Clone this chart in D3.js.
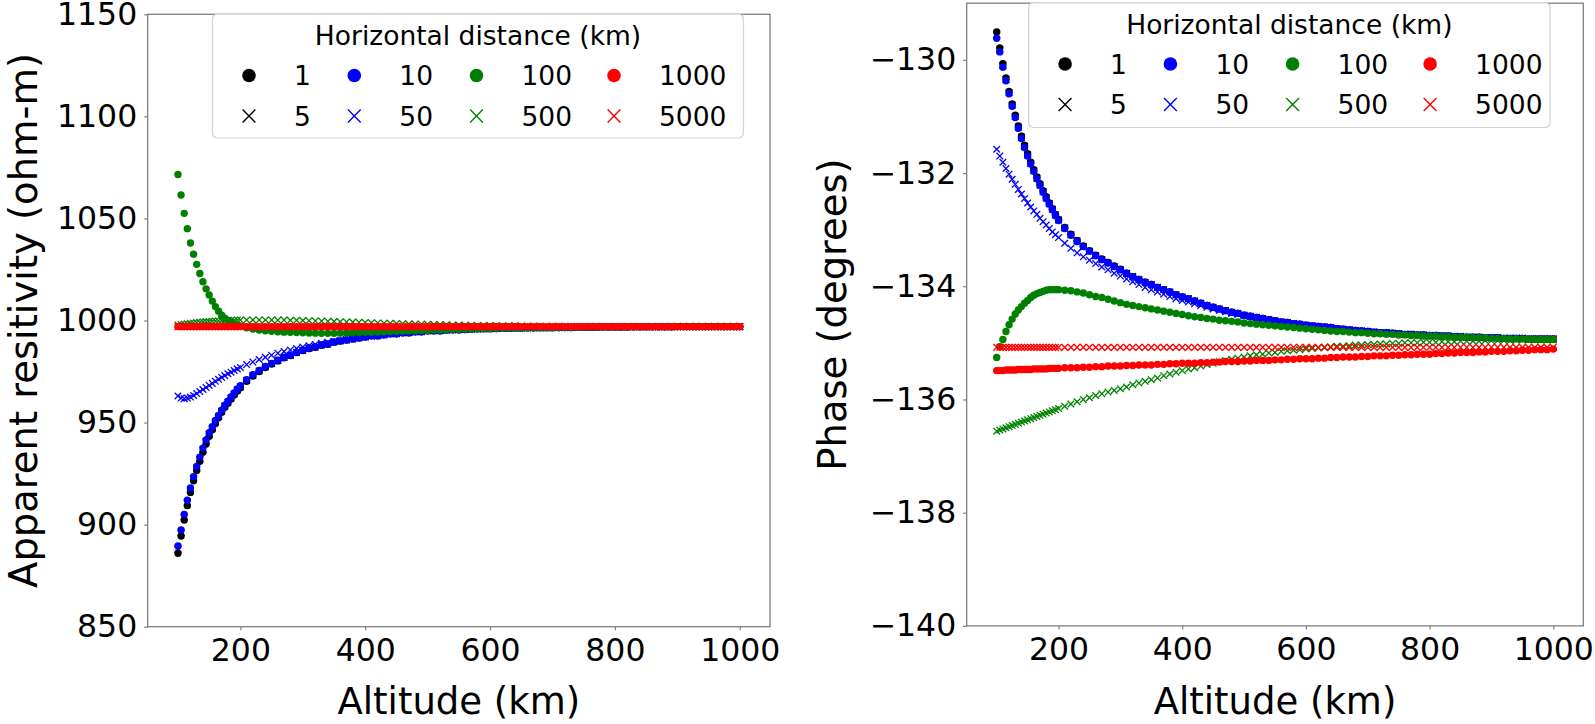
<!DOCTYPE html>
<html><head><meta charset="utf-8">
<script src="https://cdn.jsdelivr.net/npm/d3@7"></script>
<style>
body{margin:0;background:#fff}
svg{display:block}
text{font-family:"DejaVu Sans","Liberation Sans",sans-serif}
</style>
</head><body>
<svg id="chart" width="1595" height="724"></svg>
<script>
// ---------------- DATA ----------------
const altitude = [100,105,110,115,120,125,130,135,140,145,150,155,160,165,170,175,180,185,190,195,200,
210,220,230,240,250,260,270,280,290,300,
310,320,330,340,350,360,370,380,390,400,
410,420,430,440,450,460,470,480,490,500,
510,520,530,540,550,560,570,580,590,600,
610,620,630,640,650,660,670,680,690,700,
710,720,730,740,750,760,770,780,790,800,
810,820,830,840,850,860,870,880,890,900,
910,920,930,940,950,960,970,980,990,1000];

const distanceLabels = ["1","5","10","50","100","500","1000","5000"];
const legendTitle = "Horizontal distance (km)";
const altTicks = [200,400,600,800,1000];
const resTicks = [850,900,950,1000,1050,1100,1150];
const phaseTicks = [-140,-138,-136,-134,-132,-130];

// apparent resistivity (ohm-m)
const res1 = [886,894.4,902.3,909.3,915.8,921.5,926.5,931,935.5,939.5,943.3,946.5,949.5,952.3,955,957.5,959.5,961.5,963.5,965.5,967,
970.2,972.8,975,977,978.7,980.2,981.7,982.8,984.3,985.3,
986.3,986.9,987.9,988.4,989.4,989.9,990.4,990.9,991.4,991.9,
992.5,992.5,993,993.5,993.5,994,994,994.5,994.5,995,
995,995,995.3,995.5,995.5,995.6,995.8,995.9,996,996,
996.1,996.2,996.2,996.3,996.3,996.4,996.4,996.5,996.5,996.5,
996.6,996.6,996.6,996.7,996.7,996.7,996.7,996.8,996.8,996.8,
996.8,996.8,996.9,996.9,996.9,996.9,996.9,996.9,996.9,997,
997,997,997,997,997,997,997,997,997,997];
const res5 = [888,896,903.8,910.8,917,922.6,927.6,932,936.6,940.6,944.2,947.3,950.3,953,955.5,958,960,962,964,966,967.5,
970.6,973.2,975.3,977.3,978.9,980.4,981.9,982.9,984.4,985.4,
986.4,987,988,988.5,989.5,990,990.5,991,991.5,992,
992.5,992.5,993,993.5,993.5,994,994,994.5,994.5,995,
995,995,995.3,995.5,995.5,995.6,995.8,995.9,996,996,
996.1,996.2,996.2,996.3,996.3,996.4,996.4,996.5,996.5,996.5,
996.6,996.6,996.6,996.7,996.7,996.7,996.7,996.8,996.8,996.8,
996.8,996.8,996.9,996.9,996.9,996.9,996.9,996.9,996.9,997,
997,997,997,997,997,997,997,997,997,997];
const res10 = [889.5,897.4,905,912,918,923.5,928.5,933,937.5,941.5,945,948,951,953.5,956,958.5,960.5,962.5,964.5,966.5,968,
971,973.5,975.5,977.5,979,980.5,982,983,984.5,985.5,
986.5,987,988,988.5,989.5,990,990.5,991,991.5,992,
992.5,992.5,993,993.5,993.5,994,994,994.5,994.5,995,
995,995,995.3,995.5,995.5,995.6,995.8,995.9,996,996,
996.1,996.2,996.2,996.3,996.3,996.4,996.4,996.5,996.5,996.5,
996.6,996.6,996.6,996.7,996.7,996.7,996.7,996.8,996.8,996.8,
996.8,996.8,996.9,996.9,996.9,996.9,996.9,996.9,996.9,997,
997,997,997,997,997,997,997,997,997,997];
const res50 = [963,962,961.7,962,962.5,963.3,964.2,965.2,966.2,967.2,968.2,969.2,970.2,971.2,972.1,973,973.9,974.7,975.5,976.3,977,
978.4,979.7,980.9,982,983,984,984.8,985.6,986.3,987,
987.6,988.2,988.8,989.3,989.8,990.3,990.7,991.1,991.5,991.9,
992.3,992.7,993,993.4,993.7,994,994.2,994.5,994.7,995,
995.1,995.2,995.4,995.5,995.6,995.7,995.8,995.9,996,996.1,
996.1,996.2,996.3,996.3,996.4,996.4,996.5,996.5,996.5,996.6,
996.6,996.6,996.7,996.7,996.7,996.7,996.8,996.8,996.8,996.8,
996.8,996.9,996.9,996.9,996.9,996.9,996.9,996.9,997,997,
997,997,997,997,997,997,997,997,997,997];
const res100 = [1071.5,1061.5,1052.5,1045,1038,1032.5,1027.5,1023,1019,1015.5,1012.5,1009.5,1006.8,1004.5,1002.6,1001.1,1000,999,998.3,997.7,997.2,
996.4,995.8,995.3,995,994.7,994.5,994.3,994.2,994.1,994,
993.9,993.8,993.7,993.7,993.7,993.8,993.9,994,994.1,994.2,
994.3,994.4,994.5,994.6,994.7,994.8,994.9,995,995.1,995.2,
995.3,995.4,995.5,995.6,995.7,995.8,995.9,996,996,996.1,
996.2,996.2,996.3,996.3,996.4,996.4,996.5,996.5,996.6,996.6,
996.6,996.7,996.7,996.7,996.8,996.8,996.8,996.8,996.9,996.9,
996.9,996.9,996.9,996.9,997,997,997,997,997,997,
997,997,997,997,997,997,997,997,997,997];
const res500 = [997.8,998,998.2,998.4,998.6,998.8,999,999.1,999.3,999.4,999.5,999.6,999.7,999.8,999.9,1000,1000,1000.1,1000.1,1000.2,1000.2,
1000.3,1000.3,1000.3,1000.3,1000.3,1000.2,1000.2,1000.1,1000.1,1000,
999.9,999.8,999.7,999.6,999.5,999.4,999.3,999.2,999.1,999,
998.9,998.8,998.7,998.6,998.5,998.4,998.3,998.3,998.2,998.1,
998,998,997.9,997.8,997.8,997.7,997.7,997.6,997.6,997.5,
997.5,997.4,997.4,997.4,997.3,997.3,997.3,997.2,997.2,997.2,
997.2,997.1,997.1,997.1,997.1,997.1,997.1,997,997,997,
997,997,997,997,997,997,997,997,997,997,
997,997,997,997,997,997,997,997,997,997];
const res1000 = [997,997,997,997,997,997,997,997,997,997,997,997,997,997,997,997,997,997,997,997,997,
997,997,997,997,997,997,997,997,997,997,
997,997,997,997,997,997,997,997,997,997,
997,997,997,997,997,997,997,997,997,997,
997,997,997,997,997,997,997,997,997,997,
997,997,997,997,997,997,997,997,997,997,
997,997,997,997,997,997,997,997,997,997,
997,997,997,997,997,997,997,997,997,997,
997,997,997,997,997,997,997,997,997,997];
const res5000 = [997,997,997,997,997,997,997,997,997,997,997,997,997,997,997,997,997,997,997,997,997,
997,997,997,997,997,997,997,997,997,997,
997,997,997,997,997,997,997,997,997,997,
997,997,997,997,997,997,997,997,997,997,
997,997,997,997,997,997,997,997,997,997,
997,997,997,997,997,997,997,997,997,997,
997,997,997,997,997,997,997,997,997,997,
997,997,997,997,997,997,997,997,997,997,
997,997,997,997,997,997,997,997,997,997];

// phase (degrees)
const ph1 = [-129.51,-129.79,-130.07,-130.32,-130.56,-130.78,-130.98,-131.17,-131.35,-131.51,-131.66,-131.81,-131.94,-132.07,-132.19,-132.31,-132.42,-132.53,-132.63,-132.73,-132.82,
-132.96,-133.08,-133.19,-133.29,-133.37,-133.45,-133.52,-133.58,-133.64,-133.7,
-133.77,-133.83,-133.88,-133.93,-133.97,-134.02,-134.06,-134.1,-134.15,-134.19,
-134.22,-134.26,-134.3,-134.34,-134.37,-134.4,-134.43,-134.46,-134.48,-134.51,
-134.53,-134.55,-134.57,-134.59,-134.61,-134.63,-134.64,-134.66,-134.67,-134.69,
-134.7,-134.71,-134.72,-134.73,-134.75,-134.76,-134.77,-134.78,-134.79,-134.8,
-134.81,-134.82,-134.82,-134.83,-134.84,-134.85,-134.85,-134.86,-134.86,-134.87,
-134.87,-134.88,-134.88,-134.89,-134.89,-134.9,-134.9,-134.9,-134.91,-134.91,
-134.91,-134.92,-134.92,-134.92,-134.92,-134.93,-134.93,-134.93,-134.93,-134.93];
const ph5 = [-129.56,-129.83,-130.1,-130.35,-130.58,-130.8,-131.0,-131.19,-131.37,-131.53,-131.68,-131.83,-131.96,-132.09,-132.21,-132.33,-132.44,-132.54,-132.64,-132.74,-132.83,
-132.97,-133.09,-133.2,-133.3,-133.38,-133.46,-133.53,-133.59,-133.65,-133.71,
-133.77,-133.83,-133.88,-133.93,-133.97,-134.02,-134.06,-134.1,-134.15,-134.19,
-134.22,-134.26,-134.3,-134.34,-134.37,-134.4,-134.43,-134.46,-134.48,-134.51,
-134.53,-134.55,-134.57,-134.59,-134.61,-134.63,-134.64,-134.66,-134.67,-134.69,
-134.7,-134.71,-134.72,-134.73,-134.75,-134.76,-134.77,-134.78,-134.79,-134.8,
-134.81,-134.82,-134.82,-134.83,-134.84,-134.85,-134.85,-134.86,-134.86,-134.87,
-134.87,-134.88,-134.88,-134.89,-134.89,-134.9,-134.9,-134.9,-134.91,-134.91,
-134.91,-134.92,-134.92,-134.92,-134.92,-134.93,-134.93,-134.93,-134.93,-134.93];
const ph10 = [-129.62,-129.86,-130.13,-130.37,-130.6,-130.82,-131.02,-131.21,-131.39,-131.55,-131.7,-131.84,-131.97,-132.1,-132.22,-132.34,-132.45,-132.55,-132.65,-132.75,-132.84,
-132.98,-133.1,-133.21,-133.3,-133.38,-133.46,-133.53,-133.59,-133.65,-133.71,
-133.77,-133.83,-133.88,-133.93,-133.97,-134.02,-134.06,-134.1,-134.15,-134.19,
-134.22,-134.26,-134.3,-134.34,-134.37,-134.4,-134.43,-134.46,-134.48,-134.51,
-134.53,-134.55,-134.57,-134.59,-134.61,-134.63,-134.64,-134.66,-134.67,-134.69,
-134.7,-134.71,-134.72,-134.73,-134.75,-134.76,-134.77,-134.78,-134.79,-134.8,
-134.81,-134.82,-134.82,-134.83,-134.84,-134.85,-134.85,-134.86,-134.86,-134.87,
-134.87,-134.88,-134.88,-134.89,-134.89,-134.9,-134.9,-134.9,-134.91,-134.91,
-134.91,-134.92,-134.92,-134.92,-134.92,-134.93,-134.93,-134.93,-134.93,-134.93];
const ph50 = [-131.58,-131.7,-131.81,-131.92,-132.02,-132.11,-132.2,-132.29,-132.37,-132.45,-132.53,-132.6,-132.67,-132.73,-132.8,-132.86,-132.92,-132.98,-133.04,-133.09,-133.14,
-133.24,-133.33,-133.41,-133.48,-133.54,-133.6,-133.66,-133.71,-133.77,-133.82,
-133.87,-133.92,-133.97,-134.02,-134.06,-134.1,-134.14,-134.18,-134.22,-134.25,
-134.28,-134.31,-134.34,-134.37,-134.4,-134.43,-134.45,-134.48,-134.5,-134.52,
-134.54,-134.56,-134.58,-134.6,-134.62,-134.63,-134.65,-134.66,-134.68,-134.69,
-134.7,-134.71,-134.72,-134.73,-134.75,-134.76,-134.77,-134.78,-134.79,-134.8,
-134.81,-134.82,-134.82,-134.83,-134.84,-134.85,-134.85,-134.86,-134.86,-134.87,
-134.87,-134.88,-134.88,-134.89,-134.89,-134.9,-134.9,-134.9,-134.91,-134.91,
-134.91,-134.92,-134.92,-134.92,-134.92,-134.93,-134.93,-134.93,-134.93,-134.93];
const ph100 = [-135.26,-135.07,-134.94,-134.8,-134.68,-134.58,-134.49,-134.42,-134.36,-134.3,-134.25,-134.2,-134.16,-134.13,-134.11,-134.09,-134.07,-134.06,-134.06,-134.06,-134.06,
-134.07,-134.08,-134.1,-134.12,-134.15,-134.18,-134.2,-134.23,-134.26,-134.29,
-134.32,-134.34,-134.36,-134.38,-134.4,-134.42,-134.44,-134.46,-134.48,-134.5,
-134.52,-134.54,-134.55,-134.57,-134.58,-134.6,-134.61,-134.62,-134.63,-134.65,
-134.66,-134.67,-134.68,-134.69,-134.7,-134.71,-134.72,-134.73,-134.74,-134.75,
-134.76,-134.77,-134.78,-134.79,-134.8,-134.8,-134.81,-134.82,-134.82,-134.83,
-134.84,-134.84,-134.85,-134.85,-134.86,-134.86,-134.87,-134.87,-134.88,-134.88,
-134.88,-134.89,-134.89,-134.9,-134.9,-134.9,-134.91,-134.91,-134.91,-134.92,
-134.92,-134.92,-134.93,-134.93,-134.93,-134.93,-134.94,-134.94,-134.94,-134.94];
const ph500 = [-136.56,-136.54,-136.52,-136.5,-136.48,-136.46,-136.44,-136.42,-136.4,-136.38,-136.36,-136.34,-136.32,-136.3,-136.28,-136.26,-136.24,-136.22,-136.2,-136.18,-136.16,
-136.12,-136.08,-136.04,-136.0,-135.97,-135.93,-135.9,-135.87,-135.84,-135.81,
-135.78,-135.74,-135.71,-135.68,-135.65,-135.62,-135.58,-135.55,-135.52,-135.49,
-135.46,-135.44,-135.41,-135.38,-135.36,-135.33,-135.31,-135.29,-135.27,-135.25,
-135.23,-135.21,-135.2,-135.18,-135.17,-135.15,-135.14,-135.13,-135.12,-135.11,
-135.1,-135.09,-135.08,-135.07,-135.06,-135.06,-135.05,-135.04,-135.04,-135.03,
-135.03,-135.02,-135.02,-135.01,-135.01,-135.0,-135.0,-135.0,-134.99,-134.99,
-134.99,-134.98,-134.98,-134.98,-134.97,-134.97,-134.97,-134.97,-134.96,-134.96,
-134.96,-134.96,-134.96,-134.95,-134.95,-134.95,-134.95,-134.95,-134.95,-134.95];
const ph1000 = [-135.49,-135.49,-135.49,-135.48,-135.48,-135.48,-135.48,-135.47,-135.47,-135.47,-135.47,-135.47,-135.46,-135.46,-135.46,-135.46,-135.46,-135.45,-135.45,-135.45,-135.45,
-135.44,-135.44,-135.44,-135.43,-135.43,-135.42,-135.42,-135.41,-135.41,-135.41,
-135.4,-135.4,-135.39,-135.39,-135.39,-135.38,-135.38,-135.37,-135.37,-135.36,
-135.36,-135.36,-135.35,-135.35,-135.34,-135.34,-135.33,-135.33,-135.33,-135.32,
-135.32,-135.31,-135.31,-135.31,-135.3,-135.3,-135.29,-135.29,-135.28,-135.28,
-135.28,-135.27,-135.27,-135.26,-135.26,-135.25,-135.25,-135.25,-135.24,-135.24,
-135.23,-135.23,-135.23,-135.22,-135.22,-135.21,-135.21,-135.2,-135.2,-135.2,
-135.19,-135.19,-135.18,-135.18,-135.17,-135.17,-135.17,-135.16,-135.16,-135.15,
-135.15,-135.15,-135.14,-135.14,-135.13,-135.13,-135.12,-135.12,-135.12,-135.11];
const ph5000 = [-135.08,-135.08,-135.08,-135.08,-135.08,-135.08,-135.08,-135.08,-135.08,-135.08,-135.08,-135.08,-135.08,-135.08,-135.08,-135.08,-135.08,-135.08,-135.08,-135.08,-135.08,
-135.08,-135.08,-135.08,-135.08,-135.08,-135.08,-135.08,-135.08,-135.08,-135.08,
-135.08,-135.08,-135.08,-135.08,-135.08,-135.08,-135.08,-135.08,-135.08,-135.08,
-135.08,-135.08,-135.08,-135.08,-135.08,-135.08,-135.08,-135.08,-135.08,-135.08,
-135.08,-135.08,-135.08,-135.08,-135.08,-135.08,-135.08,-135.08,-135.08,-135.08,
-135.08,-135.08,-135.08,-135.08,-135.08,-135.08,-135.08,-135.08,-135.08,-135.08,
-135.08,-135.08,-135.08,-135.08,-135.08,-135.08,-135.08,-135.08,-135.08,-135.08,
-135.08,-135.08,-135.08,-135.08,-135.08,-135.08,-135.08,-135.08,-135.08,-135.08,
-135.08,-135.08,-135.08,-135.08,-135.08,-135.08,-135.08,-135.08,-135.08,-135.08];

// ---------------- STYLE ----------------
const seriesColors = ["#000000","#000000","#0000ff","#0000ff","#008000","#008000","#ff0000","#ff0000"];
const seriesMarkers = ["dot","x","dot","x","dot","x","dot","x"];
const GRAY = "#7f7f7f";
const TICK_FS = 31.5, XLABEL_FS = 37, YLABEL_FS = 38.5, LEG_FS = 26.5;

const svg = d3.select("#chart");

const panels = [
  {x0:147.7, x1:770, y0:14.3, y1:626.7, yDomain:[850,1150], yTicks:resTicks,
   ylabel:"Apparent resitivity (ohm-m)", ylabelX:37,
   series:[res1,res5,res10,res50,res100,res500,res1000,res5000],
   legend:{x:212.5, y:14, w:531, h:124}},
  {x0:966.7, x1:1583.3, y0:3.2, y1:625.9, yDomain:[-140,-129], yTicks:phaseTicks,
   ylabel:"Phase (degrees)", ylabelX:846,
   series:[ph1,ph5,ph10,ph50,ph100,ph500,ph1000,ph5000],
   legend:{x:1028.6, y:2.5, w:521.5, h:125}}
];

const fmt = d => d < 0 ? "\u2212" + Math.abs(d) : String(d);
const xPath = s => `M${-s},${-s}L${s},${s}M${-s},${s}L${s},${-s}`;

panels.forEach(p => {
  const x = d3.scaleLinear().domain([51.5, 1048.5]).range([p.x0, p.x1]);
  const y = d3.scaleLinear().domain(p.yDomain).range([p.y1, p.y0]);
  const g = svg.append("g");

  // series, plotted in legend order
  p.series.forEach((vals, i) => {
    const pts = altitude.map((a, j) => [a, vals[j]]);
    const sg = g.append("g");
    if (seriesMarkers[i] === "dot") {
      sg.selectAll("circle").data(pts).join("circle")
        .attr("cx", d => x(d[0])).attr("cy", d => y(d[1]))
        .attr("r", 3.7).attr("fill", seriesColors[i]);
    } else {
      sg.selectAll("path").data(pts).join("path")
        .attr("transform", d => `translate(${x(d[0])},${y(d[1])})`)
        .attr("d", xPath(3.3))
        .attr("fill", "none").attr("stroke", seriesColors[i]).attr("stroke-width", 1.3);
    }
  });

  // frame
  g.append("rect").attr("x", p.x0).attr("y", p.y0)
    .attr("width", p.x1 - p.x0).attr("height", p.y1 - p.y0)
    .attr("fill", "none").attr("stroke", GRAY).attr("stroke-width", 1.3);

  // x axis
  const gx = g.append("g").attr("transform", `translate(0,${p.y1})`)
    .call(d3.axisBottom(x).tickValues(altTicks).tickFormat(fmt)
      .tickSize(3.5).tickPadding(8).tickSizeOuter(0));
  gx.select(".domain").remove();
  gx.selectAll(".tick line").attr("stroke", GRAY).attr("stroke-width", 1.2);
  gx.selectAll(".tick text").attr("fill", "#000").attr("font-size", TICK_FS)
    .attr("font-family", '"DejaVu Sans",sans-serif');

  // y axis
  const gy = g.append("g").attr("transform", `translate(${p.x0},0)`)
    .call(d3.axisLeft(y).tickValues(p.yTicks).tickFormat(fmt)
      .tickSize(3.5).tickPadding(7).tickSizeOuter(0));
  gy.select(".domain").remove();
  gy.selectAll(".tick line").attr("stroke", GRAY).attr("stroke-width", 1.2);
  gy.selectAll(".tick text").attr("fill", "#000").attr("font-size", TICK_FS)
    .attr("font-family", '"DejaVu Sans",sans-serif');

  // axis labels
  g.append("text")
    .attr("transform", `translate(${(p.x0 + p.x1) / 2},714)`)
    .attr("text-anchor", "middle").attr("font-size", XLABEL_FS).attr("fill", "#000")
    .text("Altitude (km)");
  g.append("text")
    .attr("transform", `translate(${p.ylabelX},${(p.y0 + p.y1) / 2}) rotate(-90)`)
    .attr("text-anchor", "middle").attr("font-size", YLABEL_FS).attr("fill", "#000")
    .text(p.ylabel);

  // legend
  const L = p.legend;
  const lg = svg.append("g").attr("transform", `translate(${L.x},${L.y})`);
  lg.append("rect").attr("x", 0).attr("y", 0).attr("width", L.w).attr("height", L.h)
    .attr("rx", 5).attr("fill", "#fff").attr("fill-opacity", 0.85)
    .attr("stroke", "#d3d3d3").attr("stroke-width", 1.2);
  lg.append("text")
    .attr("x", L.w / 2).attr("y", 31)
    .attr("text-anchor", "middle").attr("font-size", LEG_FS).attr("fill", "#000")
    .text(legendTitle);
  const colX = [36.5, 141.8, 264, 401.5];
  const rowY = [61.5, 102];
  distanceLabels.forEach((lab, i) => {
    const c = Math.floor(i / 2), r = i % 2;
    const mx = colX[c], my = rowY[r];
    if (seriesMarkers[i] === "dot") {
      lg.append("circle").attr("cx", mx).attr("cy", my).attr("r", 6.8).attr("fill", seriesColors[i]);
    } else {
      lg.append("path").attr("transform", `translate(${mx},${my})`).attr("d", xPath(6.4))
        .attr("fill", "none").attr("stroke", seriesColors[i]).attr("stroke-width", 1.4);
    }
    lg.append("text")
      .attr("x", mx + 45).attr("y", my).attr("dy", "0.36em")
      .attr("font-size", LEG_FS).attr("fill", "#000")
      .text(lab);
  });
});
</script>
</body></html>
